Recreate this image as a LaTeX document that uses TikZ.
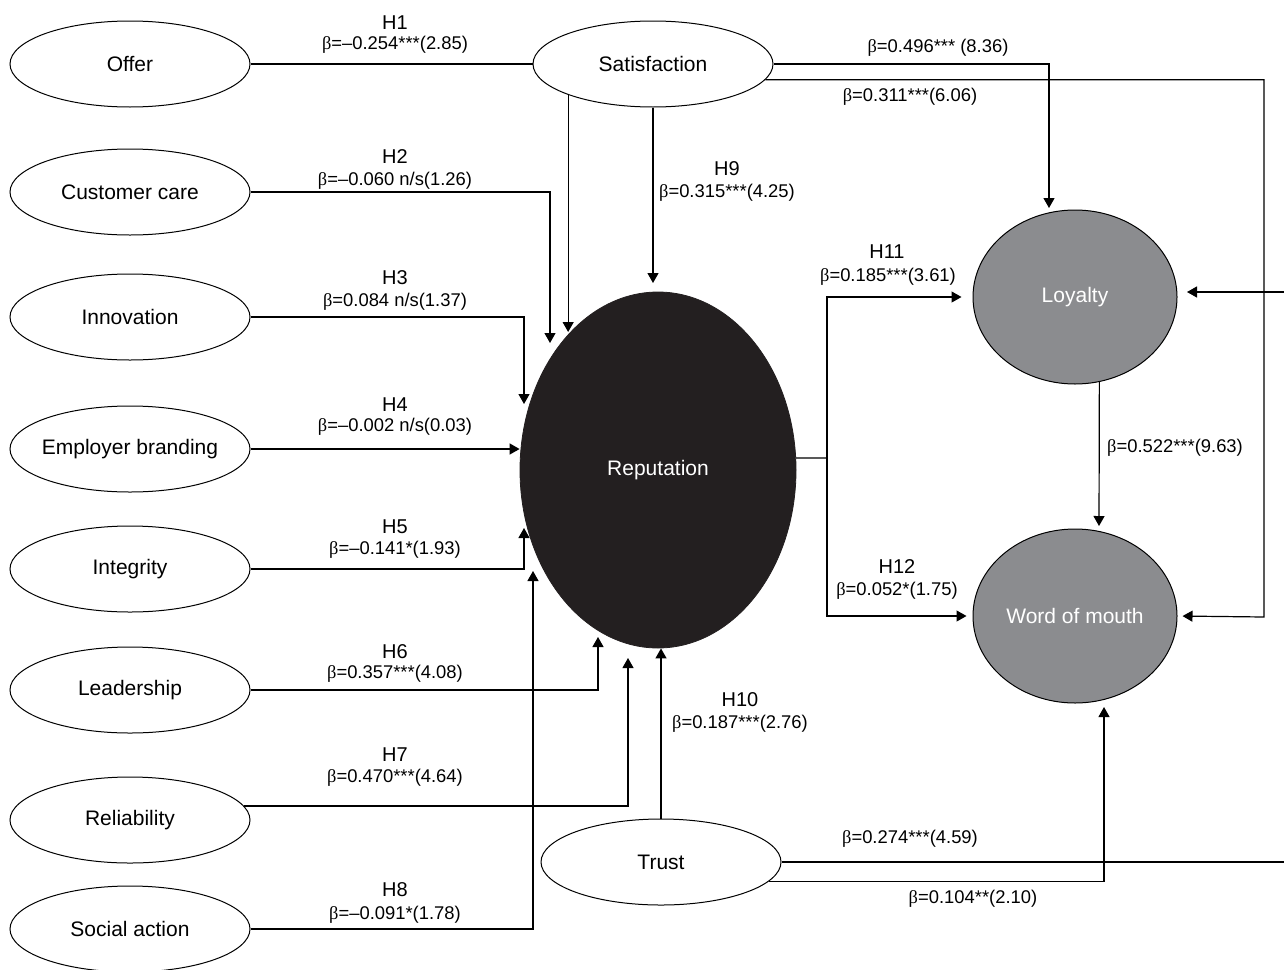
\documentclass[tikz,border=0pt]{standalone}
\usepackage{fontspec}
\setmainfont{Liberation Sans}
\newfontfamily\betafont{Liberation Serif}
\usetikzlibrary{arrows.meta,shapes.geometric}
\newcommand{\bt}{{\betafont β}}
\definecolor{repblack}{HTML}{231F20}
\definecolor{outgray}{HTML}{8B8C8F}
\begin{document}
\begin{tikzpicture}[x=0.5pt,y=-0.5pt,
  every node/.style={font=\fontsize{10.5}{12}\selectfont},
  lat/.style={draw, ellipse, fill=white, line width=0.5pt, inner ysep=0pt, inner xsep=-12pt, minimum width=120pt, minimum height=43pt},
  repbox/.style={ellipse, fill=repblack, draw=repblack, text=white, minimum width=138pt, minimum height=178pt, inner sep=0pt},
  outbox/.style={ellipse, draw, line width=0.5pt, fill=outgray, text=white, minimum width=102pt, minimum height=87pt, inner sep=0pt},
  conn/.style={line width=0.6pt},
  arr/.style={conn, -{Triangle[length=5pt,width=5.5pt]}},
  hlab/.style={font=\fontsize{10}{12}\selectfont, inner sep=0pt},
  blab/.style={font=\fontsize{9.2}{11}\selectfont, inner sep=0pt},
]
\useasboundingbox (0,0) rectangle (1284,969);
\coordinate (edge) at (1284,0);

% latent variables
\node[lat] (offer) at (130,64) {Offer};
\node[lat] (cc)    at (130,192) {Customer care};
\node[lat] (inn)   at (130,317) {Innovation};
\node[lat] (emp)   at (130,449) {Employer branding};
\node[lat] (int)   at (130,569) {Integrity};
\node[lat] (lead)  at (130,690) {Leadership};
\node[lat] (rel)   at (130,820) {Reliability};
\node[lat] (soc)   at (130,929) {Social action};
\node[lat] (sat)   at (653,64) {Satisfaction};
\node[lat] (trust) at (661,862) {Trust};
\node[repbox] (rep) at (658,470) {Reputation};
\node[outbox] (loy) at (1075,297) {Loyalty};
\node[outbox] (wom) at (1075,616) {Word of mouth};

% arrow tips
\coordinate (t2) at (550,343);
\coordinate (t3) at (524,404);
\coordinate (t5) at (524,528);
\coordinate (t6) at (598,637);
\coordinate (t7) at (628,658);
\coordinate (t8) at (533,571);
\coordinate (t9) at (653,283);
\coordinate (ts) at (568,332);
\coordinate (tl) at (1049,208);
\coordinate (rc) at (1264,617);
\coordinate (br) at (827,458);
\coordinate (tlw) at (1099,526);
\coordinate (tw) at (1104,707);
\coordinate (rin) at (1284,292);
\coordinate (tlr) at (1187,292);

% left paths
\draw[conn] (offer.east) -- (sat.west);
\draw[arr] (cc.east) -| (t2);
\draw[arr] (inn.east) -| (t3);
\draw[arr] (emp.east) -- (emp.east -| rep.west);
\draw[arr] (int.east) -| (t5);
\draw[arr] (lead.east) -| (t6);
\draw[arr] (rel.7) -| (t7);
\draw[arr] (soc.east) -| (t8);

% satisfaction paths
\draw[arr] (sat.200) -- (sat.200 |- ts);
\draw[arr] (sat.south) -- (t9);
\draw[arr] (sat.east) -| (tl);
\draw[arr, shorten >=2.5pt] (sat.-8) -| (rc) -- (wom.east);

% reputation to outcomes
\draw[conn] (rep.5) -- (br);
\draw[arr, shorten >=5.5pt] (br) |- (loy.west);
\draw[arr, shorten >=3pt] (br) |- (wom.west);
\draw[arr] (loy.-74) -- (tlw);
\draw[arr] (rin) -- (tlr);

% trust paths
\draw[arr] (trust.north) -- (trust.north |- rep.south);
\draw[conn] (trust.east) -- (trust.east -| edge);
\draw[arr] (trust.-10) -| (tw);

% labels
\node[hlab] (h1) at (395,23) {H1};
\node[blab] (b1) at (395,45) {\bt=–0.254***(2.85)};
\node[hlab] (h2) at (395,157) {H2};
\node[blab] (b2) at (395,181) {\bt=–0.060 n/s(1.26)};
\node[hlab] (h3) at (395,278) {H3};
\node[blab] (b3) at (395,302) {\bt=0.084 n/s(1.37)};
\node[hlab] (h4) at (395,405) {H4};
\node[blab] (b4) at (395,427) {\bt=–0.002 n/s(0.03)};
\node[hlab] (h5) at (395,527) {H5};
\node[blab] (b5) at (395,550) {\bt=–0.141*(1.93)};
\node[hlab] (h6) at (395,652) {H6};
\node[blab] (b6) at (395,674) {\bt=0.357***(4.08)};
\node[hlab] (h7) at (395,755) {H7};
\node[blab] (b7) at (395,778) {\bt=0.470***(4.64)};
\node[hlab] (h8) at (395,890) {H8};
\node[blab] (b8) at (395,915) {\bt=–0.091*(1.78)};
\node[hlab] (h9) at (727,169) {H9};
\node[blab] (b9) at (727,193) {\bt=0.315***(4.25)};
\node[hlab] (h10) at (740,700) {H10};
\node[blab] (b10) at (740,724) {\bt=0.187***(2.76)};
\node[hlab] (h11) at (887,252) {H11};
\node[blab] (b11) at (888,277) {\bt=0.185***(3.61)};
\node[hlab] (h12) at (897,567) {H12};
\node[blab] (b12) at (897,591) {\bt=0.052*(1.75)};
\node[blab] (bsl) at (938,48) {\bt=0.496*** (8.36)};
\node[blab] (bsw) at (910,97) {\bt=0.311***(6.06)};
\node[blab] (blw) at (1175,448) {\bt=0.522***(9.63)};
\node[blab] (btl) at (910,839) {\bt=0.274***(4.59)};
\node[blab] (btw) at (973,899) {\bt=0.104**(2.10)};
\end{tikzpicture}
\end{document}
